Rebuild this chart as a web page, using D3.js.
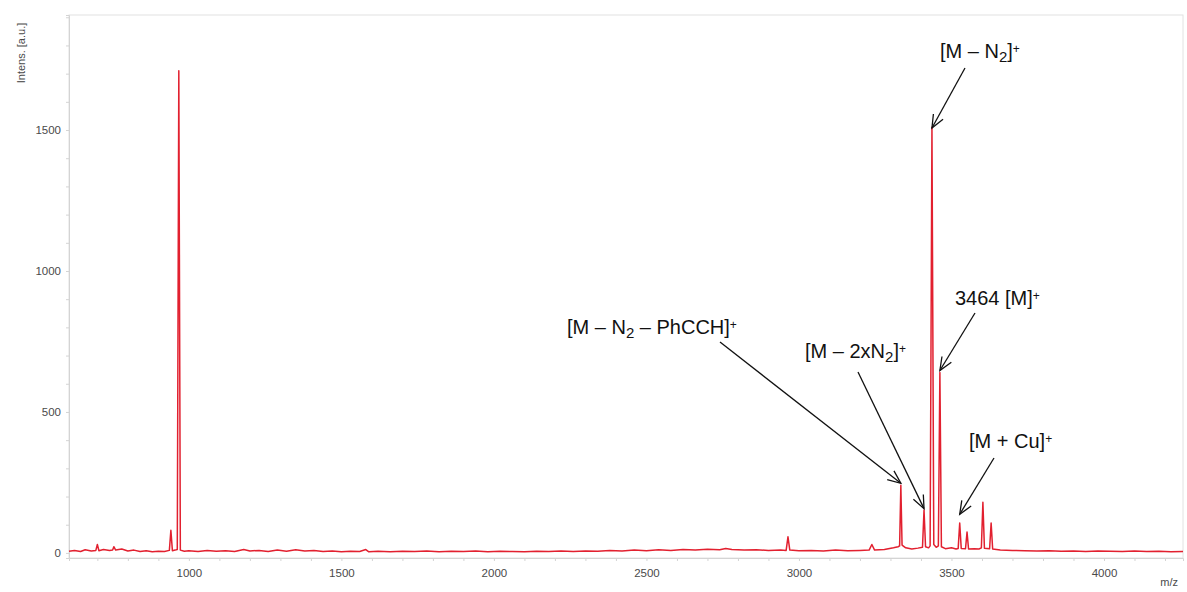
<!DOCTYPE html>
<html>
<head>
<meta charset="utf-8">
<script src="https://cdn.jsdelivr.net/npm/d3@7"></script>
<style>
  body { margin: 0; background: #fff; }
  svg { display: block; font-family: "Liberation Sans", Arial, sans-serif; }
  .axis path, .axis line { stroke: #d4d4d4; }
  .axis text { fill: #4a4a4a; font-size: 11.5px; }
  .note { font-size: 20px; fill: #111; }
  .arrow { stroke: #111; stroke-width: 1.3; fill: none; }
</style>
</head>
<body>
<svg id="chart" width="1187" height="592"></svg>
<script>
// spectrum trace, [m/z, intensity]
const spectrum = [
  [607, 6], [625, 9], [645, 5], [660, 11], [680, 7], [695, 9], [700, 30], [705, 8], [720, 12], [740, 9],
  [750, 10], [754, 22], [760, 10], [780, 14], [800, 7], [820, 10], [840, 5], [860, 8], [880, 4], [900, 6],
  [920, 5], [936, 9], [941, 80], [946, 8], [955, 10], [962, 12], [967, 1710], [972, 10], [985, 6], [1000, 8],
  [1030, 5], [1060, 9], [1090, 6], [1120, 8], [1150, 5], [1180, 12], [1200, 7], [1230, 9], [1260, 5], [1290, 10],
  [1320, 6], [1350, 11], [1380, 7], [1410, 9], [1440, 5], [1470, 7], [1500, 4], [1530, 6], [1560, 5], [1580, 12],
  [1590, 4], [1620, 6], [1660, 4], [1700, 6], [1740, 5], [1780, 7], [1820, 4], [1860, 6], [1900, 5], [1940, 7],
  [1980, 4], [2020, 6], [2060, 5], [2100, 4], [2140, 6], [2180, 5], [2220, 7], [2260, 5], [2300, 7], [2340, 6],
  [2380, 9], [2420, 7], [2460, 10], [2500, 8], [2540, 11], [2580, 9], [2620, 12], [2660, 10], [2700, 13], [2740, 11],
  [2760, 16], [2780, 12], [2820, 10], [2860, 11], [2900, 9], [2940, 10], [2958, 9], [2964, 57], [2970, 10], [3000, 8],
  [3040, 9], [3080, 7], [3120, 10], [3160, 8], [3200, 9], [3230, 10], [3239, 30], [3248, 10], [3280, 12], [3310, 18],
  [3325, 22], [3330, 25], [3334, 240], [3338, 28], [3350, 18], [3370, 14], [3390, 17], [3405, 20], [3410, 152], [3415, 22],
  [3425, 18], [3430, 25], [3436, 1510], [3442, 30], [3450, 20], [3457, 25], [3462, 640], [3467, 22], [3480, 15], [3500, 18],
  [3515, 14], [3522, 16], [3527, 106], [3532, 16], [3546, 15], [3551, 74], [3556, 14], [3575, 15], [3590, 14], [3598, 18],
  [3603, 180], [3608, 17], [3625, 15], [3630, 106], [3635, 14], [3660, 10], [3700, 9], [3740, 8], [3780, 7], [3820, 8],
  [3860, 6], [3900, 7], [3940, 5], [3980, 7], [4020, 6], [4060, 5], [4100, 7], [4140, 5], [4180, 6], [4220, 4], [4259, 5]
]

const xTickLabels = [1000, 1500, 2000, 2500, 3000, 3500, 4000]
const yTickLabels = [0, 500, 1000, 1500]

// annotated peaks: m/z, intensity at arrow tip, label pieces
const notePeaks = [3436, 3462, 3527, 3334, 3410]
const noteTips = [1500, 640, 130, 240, 150]
const noteLabels = [
  [['[M – N'], ['2', 'sub'], [']'], ['+', 'sup']],
  [['3464 [M]'], ['+', 'sup']],
  [['[M + Cu]'], ['+', 'sup']],
  [['[M – N'], ['2', 'sub'], [' – PhCCH]'], ['+', 'sup']],
  [['[M – 2xN'], ['2', 'sub'], [']'], ['+', 'sup']]
]
// label anchor (left, baseline) and arrow tail
const noteTextPos = [[940, 58], [955, 305], [969, 448], [567, 334], [805, 358]]
const noteTail = [[965, 68], [975, 313], [994, 458], [720, 342], [858, 372]]

const plot = { left: 69, top: 15, right: 1183, bottom: 558 }

const svg = d3.select('#chart')

const scaleX = d3.scaleLinear().domain([607, 4259]).range([plot.left, plot.right])
const scaleY = d3.scaleLinear().domain([-18, 1908]).range([plot.bottom, plot.top])

// frame
svg.append('rect')
  .attr('x', plot.left)
  .attr('y', plot.top)
  .attr('width', plot.right - plot.left)
  .attr('height', plot.bottom - plot.top)
  .attr('fill', '#fff')
  .attr('stroke', '#e2e2e2')

// axes
const axisBottom = d3.axisBottom(scaleX)
  .tickValues(d3.range(700, 4201, 100))
  .tickSize(3)
  .tickFormat(d => xTickLabels.includes(d) ? d : '')

svg.append('g')
  .attr('class', 'axis axis--x')
  .attr('transform', `translate(0, ${plot.bottom})`)
  .call(axisBottom)
  .call(g => g.selectAll('text').attr('dy', '1.1em'))

const axisLeft = d3.axisLeft(scaleY)
  .tickValues(d3.range(0, 1901, 100))
  .tickSize(3)
  .tickFormat(d => yTickLabels.includes(d) ? d : '')

svg.append('g')
  .attr('class', 'axis axis--y')
  .attr('transform', `translate(${plot.left}, 0)`)
  .call(axisLeft)
  .call(g => g.selectAll('text').attr('x', -8))

svg.append('text')
  .attr('transform', 'translate(25, 53) rotate(-90)')
  .attr('text-anchor', 'middle')
  .attr('font-size', 11)
  .attr('fill', '#4a4a4a')
  .text('Intens. [a.u.]')

svg.append('text')
  .attr('x', 1178)
  .attr('y', 586)
  .attr('text-anchor', 'end')
  .attr('font-size', 11)
  .attr('fill', '#4a4a4a')
  .text('m/z')

// trace
const line = d3.line()
  .x(d => scaleX(d[0]))
  .y(d => scaleY(d[1]))

svg.append('path')
  .datum(spectrum)
  .attr('d', line)
  .attr('fill', 'none')
  .attr('stroke', '#e2202f')
  .attr('stroke-width', 1.5)
  .attr('stroke-linejoin', 'round')

// arrows
svg.append('defs').append('marker')
  .attr('id', 'head')
  .attr('markerUnits', 'userSpaceOnUse')
  .attr('viewBox', '-14 -7 16 14')
  .attr('refX', 0)
  .attr('refY', 0)
  .attr('markerWidth', 16)
  .attr('markerHeight', 14)
  .attr('orient', 'auto')
  .append('path')
  .attr('d', 'M-13,-5.5 L0,0 L-13,5.5')
  .attr('class', 'arrow')

const notes = svg.append('g').attr('class', 'notes')

notePeaks.forEach((mz, i) => {
  notes.append('line')
    .attr('class', 'arrow')
    .attr('x1', noteTail[i][0])
    .attr('y1', noteTail[i][1])
    .attr('x2', scaleX(mz))
    .attr('y2', scaleY(noteTips[i]) - 2)
    .attr('marker-end', 'url(#head)')

  const text = notes.append('text')
    .attr('class', 'note')
    .attr('x', noteTextPos[i][0])
    .attr('y', noteTextPos[i][1])

  let shift = 0
  noteLabels[i].forEach(([t, kind]) => {
    let dy = 0
    let size = null
    if (kind === 'sub') { dy = 4; size = 15 }
    else if (kind === 'sup') { dy = -5; size = 12 }
    const span = text.append('tspan')
      .attr('dy', dy - shift)
      .text(t)
    if (size) span.attr('font-size', size)
    shift = dy
  })
})
</script>
</body>
</html>
